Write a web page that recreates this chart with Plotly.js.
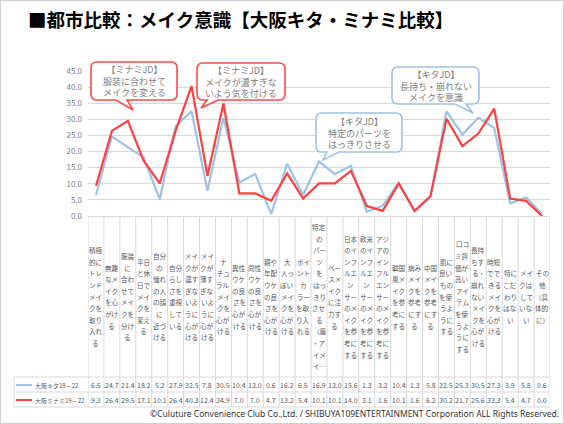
<!DOCTYPE html>
<html><head><meta charset="utf-8">
<script src="https://cdn.plot.ly/plotly-3.0.1.min.js"></script>
<style>
html,body{margin:0;padding:0;background:#fff;}
#wrap{position:relative;width:564px;height:424px;}
#chart{width:564px;height:424px;}
#frame{position:absolute;left:0;top:0;width:562px;height:422px;border:1px solid #d0d0d0;pointer-events:none;}
</style></head>
<body><div id="wrap"><div id="chart"></div><div id="frame"></div></div>
<script>
const titleText = "■都市比較：メイク意識【大阪キタ・ミナミ比較】";
const seriesNames = ["大阪キタ19－22", "大阪ミナミ19－22"];
const tickLabels = [
"積極/的に/トレ/ンド/メイ/クを/取り/入れ/る",
"無難/なメ/イク/を心/がけ/る",
"服装/に/合わ/せて/メイ/クを/分け/る",
"平日/と休/日で/メイ/クを/変え/る",
"自分/の/憧れ/の人/の顔/に/近づ/ける",
"自分/らし/さを/重視/して/いる",
"メイ/クが/濃す/ぎな/いよ/うに/心が/ける",
"メイ/クが/薄す/ぎな/いよ/うに/心が/ける",
"ナ/チュ/ラル/メイ/クを/心が/ける",
"異性/ウケ/の良/さを/心が/ける",
"同性/ウケ/の良/さを/心が/ける",
"親や/年配/ウケ/の良/さを/心が/ける",
"大/人っ/ぽい/メイ/クを/心が/ける",
"ポイ/ント/カ/ラー/を取/り入/れる",
"特定/の/パー/ツ/を/はっ/きり/させ/る/（眉/・ア/イメ/イ…",
"ベー/スメ/イク/に注/力す/る",
"日本/のイ/ンフ/ルエ/ン/サー/のメ/イク/を参/考に/する",
"欧米/のイ/ンフ/ルエ/ン/サー/のメ/イク/を参/考に/する",
"アジ/アの/イン/フル/エン/サー/のメ/イク/を参/考に/する",
"韓国/風メ/イク/を参/考に/する",
"病み/メイ/クを/参考/にす/る",
"中国/メイ/クを/参考/にす/る",
"肌に/良い/もの/を使/うよ/うに/する",
"口コ/ミ評/価が/高い/アイ/テム/を使/うよ/うに/する",
"長持/ちす/る・/崩れ/ない/メイ/クを/心が/ける",
"時短/でで/きる/メイ/クを/心が/ける",
"特に/こだ/わり/はな/い",
"メイ/クは/して/いな/い",
"その/他/（具/体的/に）"
];
const categories = tickLabels.map(s => s.replace(/\//g, ""));
const kita   = [6.5,24.7,21.4,18.2,5.2,27.9,32.5,7.8,30.5,10.4,13.0,0.6,16.2,6.5,16.9,13.0,15.6,1.3,3.2,10.4,1.3,5.8,32.5,25.3,30.5,27.3,3.9,5.8,0.6];
const minami = [9.3,26.4,29.5,17.1,10.1,26.4,40.3,12.4,34.9,7.0,7.0,4.7,13.2,5.4,10.1,10.1,14.0,3.1,1.6,10.1,1.6,6.2,30.2,21.7,25.6,33.3,5.4,4.7,0.0];
const callouts = [
  {text:"【ミナミJD】<br>服装に合わせて<br>メイクを変える", color:"#ff4a4a"},
  {text:"【ミナミJD】<br>メイクが濃すぎな<br>いよう気を付ける", color:"#ff4a4a"},
  {text:"【キタJD】<br>特定のパーツを<br>はっきりさせる", color:"#9dc3e6"},
  {text:"【キタJD】<br>長持ち・崩れない<br>メイクを意識", color:"#9dc3e6"}
];
const copyright = "©Culuture Convenience Club Co.,Ltd. / SHIBUYA109ENTERTAINMENT Corporation ALL Rights Reserved.";

const W = 564, H = 424, L = 88, R = 14, T = 71, B = 208;
const PW = W - L - R, PH = H - T - B;
const px = v => (v - L) / PW;
const py = v => (H - B - v) / PH;
const FONT = "Noto Sans CJK JP, Noto Sans, sans-serif";
const BLUE = "#9dc3e6", RED = "#ff4040", GRID = "#d9d9d9", TXT = "#595959";

const bubbleGeom = [
  {x0:91, y0:62, x1:177, y1:100, t1:116, t2:127, ax:133, ay:110},
  {x0:197, y0:63, x1:285, y1:100, t1:207, t2:218, ax:201, ay:108},
  {x0:316, y0:113, x1:402, y1:152, t1:327, t2:339, ax:323, ay:160},
  {x0:392, y0:67, x1:479, y1:104, t1:455, t2:466, ax:473, ay:113}
];
function bubblePath(g) {
  const r = 6;
  const P = (x, y) => px(x).toFixed(5) + "," + py(y).toFixed(5);
  return "M" + P(g.x0 + r, g.y0) + " L" + P(g.x1 - r, g.y0) +
    " Q" + P(g.x1, g.y0) + " " + P(g.x1, g.y0 + r) +
    " L" + P(g.x1, g.y1 - r) + " Q" + P(g.x1, g.y1) + " " + P(g.x1 - r, g.y1) +
    " L" + P(g.t2, g.y1) + " L" + P(g.ax, g.ay) + " L" + P(g.t1, g.y1) +
    " L" + P(g.x0 + r, g.y1) + " Q" + P(g.x0, g.y1) + " " + P(g.x0, g.y1 - r) +
    " L" + P(g.x0, g.y0 + r) + " Q" + P(g.x0, g.y0) + " " + P(g.x0 + r, g.y0) + " Z";
}

const traces = [
  {x: categories, y: kita, type: "scatter", mode: "lines", name: seriesNames[0],
   line: {color: BLUE, width: 2.2}, hoverinfo: "x+y"},
  {x: categories, y: minami, type: "scatter", mode: "lines", name: seriesNames[1],
   line: {color: RED, width: 2.2}, hoverinfo: "x+y"}
];

const shapes = [];
const annotations = [];

for (let k = 0; k <= categories.length; k++) {
  shapes.push({type: "line", xref: "x", yref: "paper", x0: k - 0.5, x1: k - 0.5,
    y0: py(216), y1: py(407), line: {color: GRID, width: 1}});
}
shapes.push({type: "line", xref: "paper", yref: "paper", x0: px(14), x1: px(14),
  y0: py(377), y1: py(407), line: {color: GRID, width: 1}});
[377, 392, 407].forEach(yy => shapes.push({type: "line", xref: "paper", yref: "paper",
  x0: px(14), x1: 1, y0: py(yy), y1: py(yy), line: {color: GRID, width: 1}}));

const rowY = [385, 400];
[BLUE, RED].forEach((c, i) => {
  shapes.push({type: "line", xref: "paper", yref: "paper", x0: px(16), x1: px(32),
    y0: py(rowY[i]), y1: py(rowY[i]), line: {color: c, width: 2}});
  annotations.push({xref: "paper", yref: "paper", x: px(33), y: py(rowY[i]),
    xanchor: "left", yanchor: "middle", showarrow: false, text: seriesNames[i],
    font: {family: FONT, size: 6, color: TXT}});
});

const pitch = 11.6, cy = 296.5;
tickLabels.forEach((lab, i) => {
  const lines = lab.split("/");
  const n = lines.length;
  lines.forEach((ln, j) => {
    annotations.push({xref: "x", yref: "paper", x: categories[i],
      y: py(cy + (j - (n - 1) / 2) * pitch), xanchor: "center", yanchor: "middle",
      showarrow: false, text: ln, font: {family: FONT, size: 6.6, color: TXT}});
  });
});

[kita, minami].forEach((arr, r) => {
  arr.forEach((v, i) => {
    annotations.push({xref: "x", yref: "paper", x: categories[i], y: py(rowY[r]),
      xanchor: "center", yanchor: "middle", showarrow: false, text: v.toFixed(1),
      font: {family: FONT, size: 7, color: TXT}});
  });
});

callouts.forEach((c, i) => {
  const g = bubbleGeom[i];
  shapes.push({type: "path", xref: "paper", yref: "paper", path: bubblePath(g),
    fillcolor: "#ffffff", line: {color: c.color, width: 1.6}, layer: "above"});
  annotations.push({xref: "paper", yref: "paper", x: px((g.x0 + g.x1) / 2),
    y: py((g.y0 + g.y1) / 2), xanchor: "center", yanchor: "middle", showarrow: false,
    text: c.text, font: {family: FONT, size: 9, color: "#808080"}});
});

annotations.push({xref: "paper", yref: "paper", x: px(26), y: py(19), xanchor: "left",
  yanchor: "middle", showarrow: false, text: "<b>" + titleText + "</b>",
  font: {family: FONT, size: 18.5, color: "#000000"}});

annotations.push({xref: "paper", yref: "paper", x: px(561), y: py(413), xanchor: "right",
  yanchor: "middle", showarrow: false, text: copyright,
  font: {family: "Noto Sans, sans-serif", size: 8.5, color: "#333333"}});

const layout = {
  width: W, height: H,
  margin: {l: L, r: R, t: T, b: B, pad: 0},
  paper_bgcolor: "#ffffff", plot_bgcolor: "#ffffff",
  showlegend: false,
  xaxis: {type: "category", categoryarray: categories, range: [-0.5, categories.length - 0.5],
    showticklabels: false, showgrid: false, zeroline: false, ticks: "",
    showline: true, linecolor: GRID, linewidth: 1, fixedrange: true},
  yaxis: {range: [0, 45], dtick: 5, tickformat: ".1f", showgrid: true, gridcolor: GRID,
    gridwidth: 1, zeroline: false, showline: false, ticks: "", ticklabelstandoff: 5,
    tickfont: {family: FONT, size: 8, color: "#7f7f7f"}, fixedrange: true},
  shapes: shapes,
  annotations: annotations
};

Plotly.newPlot("chart", traces, layout, {displayModeBar: false, staticPlot: true});
</script>
</body></html>
